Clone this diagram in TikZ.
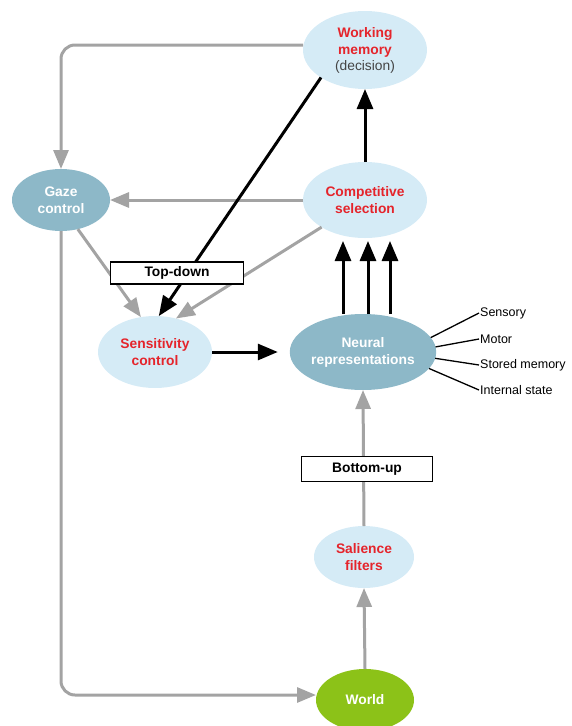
\documentclass[tikz,border=0pt]{standalone}
\usepackage{fontspec}
\setmainfont{Liberation Sans}
\usetikzlibrary{arrows.meta,shapes.geometric}
\definecolor{lblue}{HTML}{D5EBF6}
\definecolor{dblue}{HTML}{8DB8C8}
\definecolor{wgreen}{HTML}{8CC218}
\definecolor{tred}{HTML}{E5242B}
\definecolor{agray}{HTML}{A3A3A3}
\definecolor{dgray}{HTML}{444444}
\begin{document}
\begin{tikzpicture}[x=1pt,y=-1pt,
  base/.style={ellipse, inner sep=0pt, outer sep=0pt, align=center,
    font=\fontsize{13.8}{17}\selectfont\bfseries},
  light/.style={base, fill=lblue, text=tred},
  dark/.style={base, fill=dblue, text=white},
  green/.style={base, fill=wgreen, text=white},
  tagbox/.style={draw=black, line width=1.2pt, fill=white, inner sep=0pt,
    font=\fontsize{13.8}{16}\selectfont\bfseries},
  lab/.style={anchor=west, inner sep=1pt, font=\fontsize{12.5}{14}\selectfont},
  garrow/.style={draw=agray, line width=3pt, -{Triangle[length=19pt,width=15pt]}},
  barrow/.style={draw=black, line width=3pt, -{Triangle[length=20pt,width=16pt]}},
  thin/.style={draw=black, line width=1.3pt}]
\useasboundingbox (0,0) rectangle (571,726);

\node[light, minimum width=124pt, minimum height=78pt] (wm) at (365,50)
  {Working\\memory\\[-1pt]{\mdseries\color{dgray}(decision)}};
\node[light, minimum width=124pt, minimum height=76pt] (cs) at (365,200)
  {Competitive\\selection};
\node[dark, minimum width=98pt, minimum height=62pt] (gaze) at (61,200)
  {Gaze\\control};
\node[light, minimum width=114pt, minimum height=72pt] (sens) at (155,352)
  {Sensitivity\\control};
\node[dark, minimum width=120pt, minimum height=76pt] (neural) at (363,352)
  {Neural\\representations};
\node[light, minimum width=100pt, minimum height=62pt] (sal) at (364,557)
  {Salience\\filters};
\node[green, minimum width=98pt, minimum height=62pt] (world) at (365,700)
  {World};

% gray connectors
\draw[garrow, rounded corners=14pt] ([yshift=5pt]wm.west) -| (gaze.north);
\draw[garrow] (cs.west) -- (gaze.east);
\draw[garrow] (gaze.-60) -- (sens.112);
\draw[garrow] (cs.212) -- (sens.58);
\draw[garrow, rounded corners=14pt] (gaze.south) |- ([yshift=5pt]world.west);
\draw[garrow] (world.north) -- (sal.south);
\draw[garrow] (sal.north) -- (neural.south);

% black connectors
\draw[barrow] (wm.212) -- (sens.84);
\draw[barrow, shorten >=12pt] (sens.east) -- (neural.west);
\draw[barrow] ([xshift=-20pt]neural.north) -- ([xshift=-20pt,yshift=-3pt]neural.north |- cs.south);
\draw[barrow] ([xshift=5pt]neural.north) -- ([xshift=5pt,yshift=-3pt]neural.north |- cs.south);
\draw[barrow] ([xshift=27pt]neural.north) -- ([xshift=27pt,yshift=-3pt]neural.north |- cs.south);
\draw[barrow] (cs.north) -- (wm.south);

% boxes
\node[tagbox, minimum width=133pt, minimum height=22pt] (td) at (177,273) {Top-down};
\node[tagbox, minimum width=131pt, minimum height=25pt] (bu) at (367,469) {Bottom-up};

% neural labels
\node[lab] (l1) at (479,313) {Sensory};
\node[lab] (l2) at (479,339) {Motor};
\node[lab] (l3) at (479,365) {Stored memory};
\node[lab] (l4) at (479,390) {Internal state};
\draw[thin] (neural.12) -- (l1.west);
\draw[thin] (neural.4) -- (l2.west);
\draw[thin] (neural.-5) -- (l3.west);
\draw[thin] (neural.-14) -- (l4.west);
\end{tikzpicture}
\end{document}
